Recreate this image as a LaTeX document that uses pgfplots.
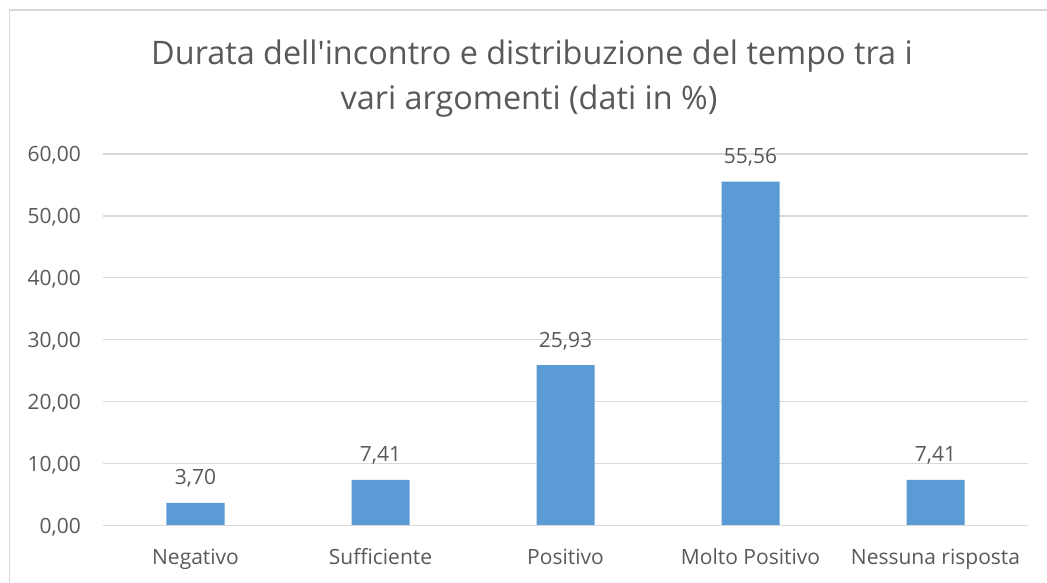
\documentclass[border=0pt]{standalone}
\usepackage{pgfplots}
\pgfplotsset{compat=1.18}
\usepackage{fontspec}
\setmainfont{Open Sans}[Ligatures=TeXOff]
\definecolor{txt}{HTML}{595959}
\definecolor{gridc}{HTML}{D9D9D9}
\definecolor{barc}{HTML}{5B9BD5}
\begin{document}
\begin{tikzpicture}[x=1pt,y=1pt]
\useasboundingbox (0,0) rectangle (1047,583);
\fill[white] (0,0) rectangle (1047,583);
\draw[gridc, line width=1.2pt] (9.5,0) -- (9.5,573) -- (1047,573);
\node[anchor=base, text=txt, font=\fontsize{32.4}{38}\selectfont] at (532,518) {Durata dell'incontro e distribuzione del tempo tra i};
\node[anchor=base, text=txt, font=\fontsize{32.4}{38}\selectfont] at (529,473) {vari argomenti (dati in \%)};
\begin{axis}[
  at={(103pt,57.3pt)}, anchor=south west,
  scale only axis, width=925pt, height=371.7pt,
  xmin=-0.5, xmax=4.5, ymin=0, ymax=60,
  ybar, bar width=58pt, bar shift=0pt,
  axis line style={draw=none},
  major tick length=0pt,
  xtick={0,1,2,3,4},
  xticklabels={Negativo, Sufficiente, Positivo, Molto Positivo, Nessuna risposta},
  ytick={0,10,20,30,40,50,60},
  xmajorgrids=false, ymajorgrids=true,
  y grid style={draw=gridc, line width=1.2pt},
  /pgf/number format/.cd, fixed, fixed zerofill, precision=2, use comma, assume math mode=true,
  /pgfplots/.cd,
  tick label style={text=txt, font=\fontsize{21}{25}\selectfont},
  xticklabel style={anchor=base, inner sep=0pt, yshift=-39pt},
  yticklabel style={anchor=base east, inner sep=0pt, xshift=-22pt, yshift=-7.5pt},
  nodes near coords,
  every node near coord/.append style={anchor=base, inner sep=0pt, yshift=18pt, text=txt, font=\fontsize{21}{25}\selectfont},
  clip=false,
]
\addplot[fill=barc, draw=none] coordinates {(0,3.70) (1,7.41) (2,25.93) (3,55.56) (4,7.41)};
\draw[gridc, line width=1.2pt] (axis cs:-0.5,0) -- (axis cs:4.5,0);
\end{axis}
\end{tikzpicture}
\end{document}
